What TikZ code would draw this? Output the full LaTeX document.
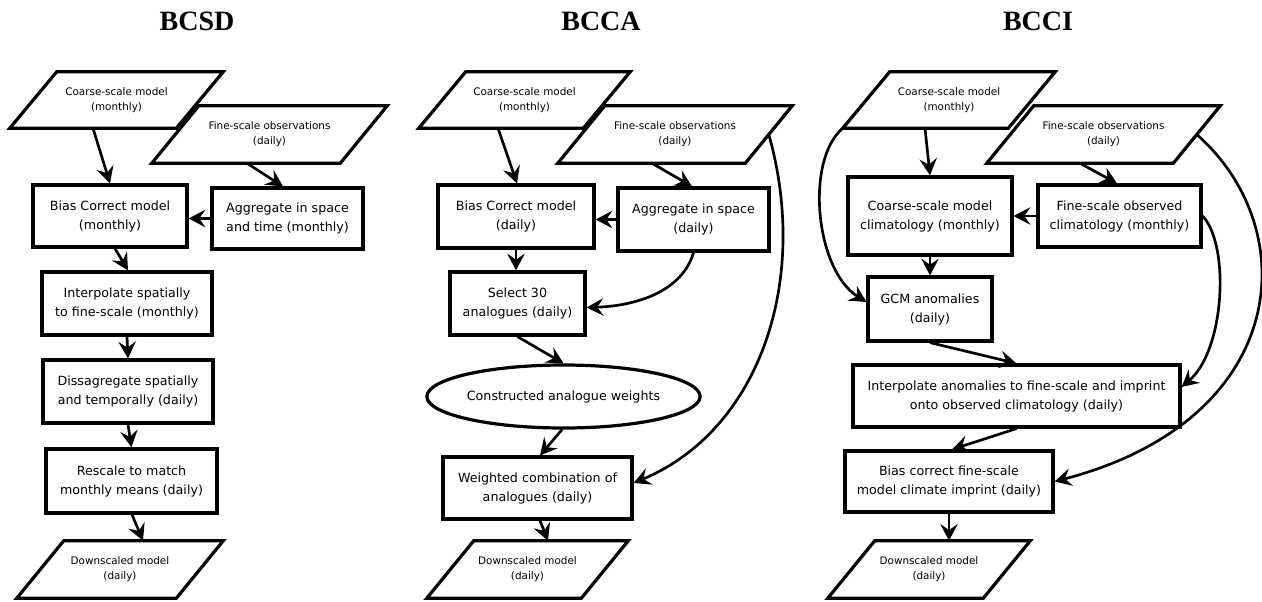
\documentclass[tikz,border=0pt]{standalone}
\usepackage{fontspec}
\setmainfont{DejaVu Sans}
\newfontfamily\titlefont{Liberation Serif}
\usetikzlibrary{arrows.meta,calc,shapes.geometric}
\newdimen\upx \upx=0.75pt
\newcommand\boxfont{\fontsize{9.5}{14.25}\selectfont}
\newcommand\parafont{\fontsize{7.8}{11.25}\selectfont}
\newcommand\parabox[1]{\draw[pline] (#1.south west) -- ([xshift=35.25pt]#1.north west) -- (#1.north east) -- ([xshift=-35.25pt]#1.south east) -- cycle;}
\tikzset{
  box/.style={draw, line width=2.4pt, inner sep=0pt, align=center, font=\boxfont},
  ptext/.style={inner sep=0pt, align=center, font=\parafont},
  pline/.style={line width=2.4pt, line join=miter},
  oval/.style={draw, ellipse, line width=2.4pt, inner sep=0pt, align=center, font=\boxfont},
  arr/.style={line width=2pt, -{Stealth[length=12.5pt,width=13pt,inset=4.5pt]}},
  ttl/.style={font=\titlefont\fontsize{21}{25}\selectfont\bfseries, anchor=base}
}
\begin{document}
\begin{tikzpicture}[x=0.75pt,y=-0.75pt]
\useasboundingbox (0,0) rectangle (1262,601);

% ---------------- titles
\node[ttl] (t1) at (197,30) {BCSD};
\node[ttl] (t2) at (601,30) {BCCA};
\node[ttl] (t3) at (1038,30) {BCCI};

% ---------------- BCSD
\node[ptext, minimum width=213\upx, minimum height=56\upx] (cs1) at (116.5,100) {Coarse-scale model\\(monthly)};
\parabox{cs1}
\node[ptext, minimum width=235\upx, minimum height=57\upx] (fo1) at (269.5,134.5) {Fine-scale observations\\(daily)};
\parabox{fo1}
\node[box, minimum width=154\upx, minimum height=62\upx] (bc1) at (110,216) {Bias Correct model\\(monthly)};
\node[box, minimum width=151\upx, minimum height=61\upx] (ag1) at (287.5,218.5) {Aggregate in space\\and time (monthly)};
\node[box, minimum width=170\upx, minimum height=63\upx] (ip1) at (127,303.5) {Interpolate spatially\\to fine-scale (monthly)};
\node[box, minimum width=170\upx, minimum height=63\upx] (ds1) at (128,391.5) {Dissagregate spatially\\and temporally (daily)};
\node[box, minimum width=171\upx, minimum height=64\upx] (rs1) at (131.5,481) {Rescale to match\\monthly means (daily)};
\node[ptext, minimum width=206\upx, minimum height=57\upx] (dm1) at (120,569.5) {Downscaled model\\(daily)};
\parabox{dm1}

\draw[arr] ($(cs1.south)+(-23.5,0)$) -- (bc1.north);
\draw[arr] ($(fo1.south)+(-22.5,0)$) -- ($(ag1.north)+(-4.5,0)$);
\draw[arr] (ag1.west) -- (ag1.west -| bc1.east);
\draw[arr] ($(bc1.south)+(5,0)$) -- ($(ip1.north)+(1,0)$);
\draw[arr] (ip1.south) -- (ds1.north);
\draw[arr] (ds1.south) -- (rs1.north);
\draw[arr] ($(rs1.south)+(0.5,0)$) -- ($(dm1.north)+(23,0)$);

% ---------------- BCCA
\node[ptext, minimum width=211\upx, minimum height=56\upx] (cs2) at (524.5,100) {Coarse-scale model\\(monthly)};
\parabox{cs2}
\node[ptext, minimum width=234\upx, minimum height=57\upx] (fo2) at (675,134.5) {Fine-scale observations\\(daily)};
\parabox{fo2}
\node[box, minimum width=156\upx, minimum height=63\upx] (bc2) at (516,216.5) {Bias Correct model\\(daily)};
\node[box, minimum width=151\upx, minimum height=63\upx] (ag2) at (693.5,219.5) {Aggregate in space\\(daily)};
\node[box, minimum width=135\upx, minimum height=63\upx] (se2) at (517.5,303.5) {Select 30\\analogues (daily)};
\node[oval, minimum width=253\upx, minimum height=63\upx] (el2) at (563.5,396.5) {Constructed analogue weights};
\node[box, minimum width=189\upx, minimum height=62\upx] (wc2) at (537.5,488) {Weighted combination of\\analogues (daily)};
\node[ptext, minimum width=201\upx, minimum height=57\upx] (dm2) at (527.5,569.5) {Downscaled model\\(daily)};
\parabox{dm2}

\draw[arr] ($(cs2.south)+(-26.5,0)$) -- ($(bc2.north)+(1,0)$);
\draw[arr] ($(fo2.south)+(-23,0)$) -- ($(ag2.north)+(-1.5,0)$);
\draw[arr] (ag2.west) -- (ag2.west -| bc2.east);
\draw[arr] (bc2.south) -- (bc2.south |- se2.north);
\draw[arr] (ag2.south) .. controls (682,292) and (635,306) .. ($(se2.east)+(0,4)$);
\draw[arr] ($(fo2.east)+(-23.5,0)$) .. controls (810,280) and (760,430) .. ($(wc2.east)+(0,-5)$);
\draw[arr] (se2.south) -- (el2.north);
\draw[arr] ($(el2.south)+(-1.5,0)$) -- ($(wc2.north)+(2.5,0)$);
\draw[arr] ($(wc2.south)+(2.5,0)$) -- ($(dm2.north)+(20.5,0)$);

% ---------------- BCCI
\node[ptext, minimum width=212\upx, minimum height=56\upx] (cs3) at (949,100) {Coarse-scale model\\(monthly)};
\parabox{cs3}
\node[ptext, minimum width=233\upx, minimum height=57\upx] (fo3) at (1103.5,134.5) {Fine-scale observations\\(daily)};
\parabox{fo3}
\node[box, minimum width=164\upx, minimum height=78\upx] (mc3) at (930,216) {Coarse-scale model\\climatology (monthly)};
\node[box, minimum width=163\upx, minimum height=62\upx] (oc3) at (1119.5,216) {Fine-scale observed\\climatology (monthly)};
\node[box, minimum width=124\upx, minimum height=64\upx] (gc3) at (930,309) {GCM anomalies\\(daily)};
\node[box, minimum width=327\upx, minimum height=62\upx] (ip3) at (1016.5,396) {Interpolate anomalies to fine-scale and imprint\\onto observed climatology (daily)};
\node[box, minimum width=208\upx, minimum height=61\upx] (bc3) at (949,481.5) {Bias correct fine-scale\\model climate imprint (daily)};
\node[ptext, minimum width=202\upx, minimum height=57\upx] (dm3) at (929,569.5) {Downscaled model\\(daily)};
\parabox{dm3}

\draw[arr] ($(cs3.south)+(-24,0)$) -- (mc3.north);
\draw[arr] ($(fo3.south)+(-23.5,0)$) -- ($(oc3.north)+(-2.5,0)$);
\draw[arr] (oc3.west) -- (oc3.west -| mc3.east);
\draw[arr] (mc3.south) -- (gc3.north);
\draw[arr] (cs3.south west) .. controls (805,160) and (815,270) .. ($(gc3.west)+(0,-7)$);
\draw[arr] ($(fo3.east)+(-23.5,0)$) .. controls (1305,230) and (1290,420) .. (bc3.east);
\draw[arr] (oc3.east) .. controls (1230,245) and (1225,350) .. ($(ip3.east)+(0,-9)$);
\draw[arr] (gc3.south) -- (ip3.north);
\draw[arr] (ip3.south) -- ($(bc3.north)+(3,0)$);
\draw[arr] (bc3.south) -- (bc3.south |- dm3.north);
\end{tikzpicture}
\end{document}
